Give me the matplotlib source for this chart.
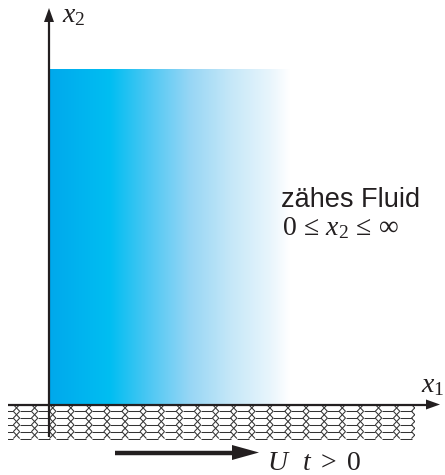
import numpy as np
import matplotlib
matplotlib.use("Agg")
import matplotlib.pyplot as plt
from matplotlib.colors import to_rgb
from matplotlib.patches import Polygon, Rectangle
from matplotlib.collections import LineCollection

plt.rcParams['mathtext.fontset'] = 'custom'
plt.rcParams['mathtext.rm'] = 'Liberation Serif'
plt.rcParams['mathtext.it'] = 'Liberation Serif:italic'

# geometry of the sketch (pixel units, y downwards)
W, H = 445, 475
fluid_x = [48, 290]
fluid_y = [69, 404]
axis_x = 49
wall_y = 404.5
wall_x = [8, 415]
wall_levels = [404.5, 411.3, 418.1, 424.9, 431.7, 438.5]
junction_x0, junction_step, junction_half = 16.5, 18.1, 3.2

# colour stops of the fluid gradient (x position, colour)
grad_pos = [48, 110, 145, 190, 230, 270, 290]
grad_col = ['#00a8ec', '#00bef2', '#45c6f3', '#97d6f5', '#c4e7f8', '#e8f5fc', '#ffffff']

ink = '#231f20'

fig = plt.figure(figsize=(W / 100, H / 100), dpi=100)
ax = fig.add_axes([0, 0, 1, 1])
ax.set_xlim(0, W)
ax.set_ylim(H, 0)
ax.axis('off')

# fluid region with horizontal gradient
xs = np.linspace(fluid_x[0], fluid_x[1], 400)
rgb = np.array([to_rgb(c) for c in grad_col])
img = np.stack([np.interp(xs, grad_pos, rgb[:, i]) for i in range(3)], axis=-1)[None, :, :]
ax.imshow(img, extent=[fluid_x[0], fluid_x[1], fluid_y[1], fluid_y[0]],
          aspect='auto', interpolation='bilinear', zorder=1)

# moving wall: rows of hexagons
jx = junction_x0 + junction_step * np.arange(int((wall_x[1] - junction_x0) / junction_step) + 1)
g = junction_half
segs = []
for k, y in enumerate(wall_levels):
    edges = [wall_x[0] - 5] + list(jx) + [wall_x[1] + 5]
    for a, b in zip(edges[:-1], edges[1:]):
        segs.append([(a + g, y), (b - g, y)])
for y0, y1 in zip(wall_levels[:-1], wall_levels[1:]):
    ym = (y0 + y1) / 2
    for x in jx:
        segs.append([(x - g, y0), (x, ym), (x - g, y1)])
        segs.append([(x + g, y0), (x, ym), (x + g, y1)])
lc = LineCollection(segs, colors='#333333', linewidths=0.75, zorder=2)
ax.add_collection(lc)
clip = Rectangle((wall_x[0], wall_levels[0] - 1), wall_x[1] - wall_x[0],
                 wall_levels[-1] - wall_levels[0] + 2, transform=ax.transData)
lc.set_clip_path(clip)

# x2 axis
ax.plot([axis_x, axis_x], [437, 20], color=ink, lw=1.6, zorder=3, solid_capstyle='butt')
ax.add_patch(Polygon([(axis_x, 8), (axis_x - 5, 22), (axis_x + 5, 22)], closed=True,
                     color=ink, zorder=3, lw=0))
# x1 axis
ax.plot([wall_x[0], 428], [wall_y, wall_y], color=ink, lw=1.6, zorder=3, solid_capstyle='butt')
ax.add_patch(Polygon([(440, wall_y), (426, wall_y - 5), (426, wall_y + 5)], closed=True,
                     color=ink, zorder=3, lw=0))

# wall velocity arrow
arr_y = 452.5
ax.plot([115, 236], [arr_y, arr_y], color=ink, lw=3.2, zorder=3, solid_capstyle='butt')
ax.add_patch(Polygon([(259, arr_y), (232, arr_y - 7.5), (232, arr_y + 7.5)], closed=True,
                     color=ink, zorder=3, lw=0))

# labels
ax.text(62, 22, r'$x_2$', fontsize=20, color=ink, ha='left', va='baseline')
ax.text(421, 392, r'$x_1$', fontsize=20, color=ink, ha='left', va='baseline')
ax.text(281, 207, 'zähes Fluid', family='Liberation Sans', fontsize=19.5,
        color=ink, ha='left', va='baseline')
ax.text(282, 235, r'$0\,\leq\,x_2\,\leq\,\infty$', fontsize=20, color=ink,
        ha='left', va='baseline')
ax.text(267, 470, r'$U$', fontsize=20, color=ink, ha='left', va='baseline')
ax.text(302, 470, r'$t\ >\ 0$', fontsize=20, color=ink, ha='left', va='baseline')

fig.savefig('out.png', dpi=100)
